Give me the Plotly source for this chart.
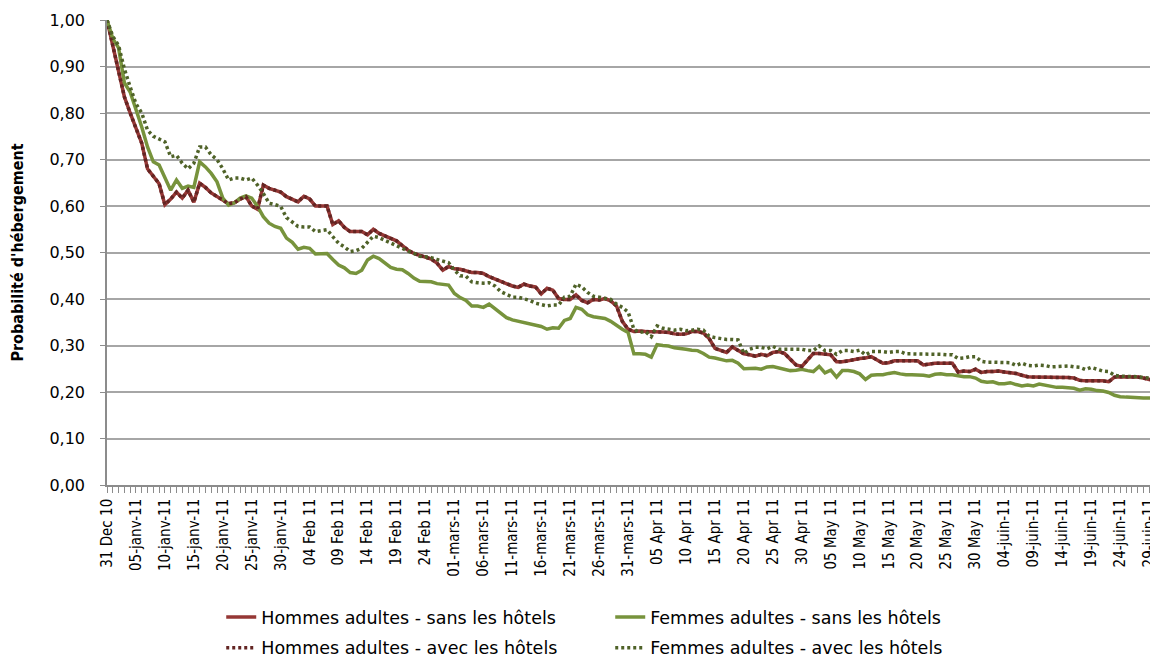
import pandas as pd
import plotly.graph_objects as go

start_date = "2010-12-31"

tick_labels = [
    "31 Dec 10", "05-janv-11", "10-janv-11", "15-janv-11", "20-janv-11", "25-janv-11",
    "30-janv-11", "04 Feb 11", "09 Feb 11", "14 Feb 11", "19 Feb 11", "24 Feb 11",
    "01-mars-11", "06-mars-11", "11-mars-11", "16-mars-11", "21-mars-11", "26-mars-11",
    "31-mars-11", "05 Apr 11", "10 Apr 11", "15 Apr 11", "20 Apr 11", "25 Apr 11",
    "30 Apr 11", "05 May 11", "10 May 11", "15 May 11", "20 May 11", "25 May 11",
    "30 May 11", "04-juin-11", "09-juin-11", "14-juin-11", "19-juin-11", "24-juin-11",
    "29-juin-11",
]

hommes_sans = [
    1.000, 0.945, 0.890, 0.835, 0.800, 0.767, 0.735, 0.680, 0.665, 0.648,
    0.603, 0.615, 0.630, 0.617, 0.634, 0.608, 0.649, 0.640, 0.628, 0.620,
    0.613, 0.605, 0.607, 0.615, 0.620, 0.600, 0.593, 0.645, 0.638, 0.634,
    0.630, 0.620, 0.615, 0.609, 0.621, 0.615, 0.600, 0.600, 0.600, 0.560,
    0.568, 0.554, 0.545, 0.545, 0.545, 0.538, 0.550, 0.541, 0.535, 0.530,
    0.525, 0.515, 0.505, 0.498, 0.494, 0.490, 0.486, 0.477, 0.462, 0.470,
    0.465, 0.464, 0.460, 0.457, 0.457, 0.455, 0.448, 0.443, 0.440, 0.433,
    0.428, 0.425, 0.432, 0.428, 0.426, 0.411, 0.423, 0.419, 0.401, 0.399,
    0.399, 0.409, 0.397, 0.392, 0.399, 0.398, 0.401, 0.396, 0.385, 0.352,
    0.335, 0.330, 0.331, 0.330, 0.330, 0.330, 0.329, 0.328, 0.325, 0.324,
    0.325, 0.330, 0.330, 0.327, 0.315, 0.294, 0.290, 0.285, 0.297, 0.290,
    0.282, 0.280, 0.277, 0.281, 0.278, 0.285, 0.287, 0.283, 0.270, 0.258,
    0.255, 0.270, 0.283, 0.283, 0.282, 0.280, 0.265, 0.265, 0.267, 0.270,
    0.272, 0.273, 0.276, 0.269, 0.262, 0.263, 0.267, 0.267, 0.267, 0.267,
    0.267, 0.258, 0.260, 0.262, 0.262, 0.262, 0.262, 0.243, 0.245, 0.244,
    0.249, 0.242, 0.244, 0.244, 0.245, 0.243, 0.241, 0.240, 0.236, 0.233,
    0.232, 0.232, 0.232, 0.232, 0.232, 0.232, 0.231, 0.230, 0.225, 0.224,
    0.224, 0.224, 0.224, 0.222, 0.232, 0.233, 0.233, 0.233, 0.232, 0.230,
    0.227, 0.226,
]

femmes_sans = [
    1.000, 0.960, 0.940, 0.865, 0.845, 0.810, 0.770, 0.727, 0.695, 0.688,
    0.663, 0.634, 0.656, 0.638, 0.643, 0.640, 0.695, 0.684, 0.670, 0.652,
    0.617, 0.602, 0.607, 0.617, 0.622, 0.617, 0.599, 0.577, 0.563, 0.556,
    0.552, 0.531, 0.522, 0.507, 0.511, 0.509, 0.497, 0.497, 0.498, 0.485,
    0.473, 0.467, 0.457, 0.455, 0.462, 0.484, 0.492, 0.487, 0.478, 0.468,
    0.464, 0.463, 0.455, 0.445, 0.438, 0.437, 0.437, 0.433, 0.432, 0.430,
    0.412, 0.403, 0.397, 0.385, 0.385, 0.382, 0.389, 0.380, 0.369, 0.360,
    0.355, 0.352, 0.350, 0.347, 0.344, 0.341, 0.335, 0.338, 0.337, 0.354,
    0.358, 0.382, 0.378, 0.366, 0.362, 0.360, 0.358, 0.352, 0.343, 0.335,
    0.328, 0.282, 0.282, 0.281, 0.275, 0.302, 0.300, 0.299, 0.295, 0.294,
    0.292, 0.290, 0.289, 0.283, 0.275, 0.273, 0.270, 0.267, 0.268, 0.262,
    0.250, 0.251, 0.251, 0.249, 0.254, 0.255, 0.252, 0.250, 0.246, 0.247,
    0.249, 0.246, 0.244, 0.255, 0.241, 0.247, 0.232, 0.246, 0.246, 0.244,
    0.239, 0.227, 0.236, 0.237, 0.237, 0.240, 0.242, 0.239, 0.237, 0.237,
    0.237, 0.236, 0.234, 0.238, 0.239, 0.237, 0.237, 0.235, 0.233, 0.233,
    0.230, 0.223, 0.221, 0.222, 0.218, 0.218, 0.220, 0.216, 0.213, 0.215,
    0.213, 0.217, 0.215, 0.212, 0.210, 0.210, 0.209, 0.208, 0.204, 0.207,
    0.206, 0.203, 0.202, 0.199, 0.193, 0.190, 0.189, 0.188, 0.187, 0.187,
    0.187, 0.187,
]

hommes_avec = [
    1.000, 0.945, 0.890, 0.835, 0.800, 0.767, 0.735, 0.680, 0.665, 0.648,
    0.603, 0.615, 0.630, 0.617, 0.634, 0.608, 0.649, 0.640, 0.628, 0.620,
    0.613, 0.605, 0.607, 0.615, 0.620, 0.600, 0.593, 0.645, 0.638, 0.634,
    0.630, 0.620, 0.615, 0.609, 0.621, 0.615, 0.600, 0.600, 0.600, 0.560,
    0.568, 0.554, 0.545, 0.545, 0.545, 0.538, 0.550, 0.541, 0.535, 0.530,
    0.525, 0.515, 0.505, 0.498, 0.494, 0.490, 0.486, 0.477, 0.462, 0.470,
    0.465, 0.464, 0.460, 0.457, 0.457, 0.455, 0.448, 0.443, 0.440, 0.433,
    0.428, 0.425, 0.432, 0.428, 0.426, 0.411, 0.423, 0.419, 0.401, 0.399,
    0.399, 0.409, 0.397, 0.392, 0.399, 0.398, 0.401, 0.396, 0.385, 0.352,
    0.335, 0.330, 0.331, 0.330, 0.330, 0.330, 0.329, 0.328, 0.325, 0.324,
    0.325, 0.330, 0.330, 0.327, 0.315, 0.294, 0.290, 0.285, 0.297, 0.290,
    0.282, 0.280, 0.277, 0.281, 0.278, 0.285, 0.287, 0.283, 0.270, 0.258,
    0.255, 0.270, 0.283, 0.283, 0.282, 0.280, 0.265, 0.265, 0.267, 0.270,
    0.272, 0.273, 0.276, 0.269, 0.262, 0.263, 0.267, 0.267, 0.267, 0.267,
    0.267, 0.258, 0.260, 0.262, 0.262, 0.262, 0.262, 0.243, 0.245, 0.244,
    0.249, 0.242, 0.244, 0.244, 0.245, 0.243, 0.241, 0.240, 0.236, 0.233,
    0.232, 0.232, 0.232, 0.232, 0.232, 0.232, 0.231, 0.230, 0.225, 0.224,
    0.224, 0.224, 0.224, 0.222, 0.232, 0.233, 0.233, 0.233, 0.232, 0.230,
    0.227, 0.226,
]

femmes_avec = [
    1.000, 0.965, 0.945, 0.895, 0.856, 0.820, 0.800, 0.763, 0.750, 0.745,
    0.738, 0.706, 0.709, 0.692, 0.680, 0.692, 0.727, 0.727, 0.710, 0.700,
    0.680, 0.656, 0.660, 0.660, 0.656, 0.660, 0.645, 0.627, 0.606, 0.603,
    0.599, 0.575, 0.565, 0.556, 0.555, 0.555, 0.545, 0.547, 0.549, 0.534,
    0.520, 0.512, 0.502, 0.504, 0.509, 0.522, 0.535, 0.532, 0.526, 0.521,
    0.514, 0.507, 0.503, 0.498, 0.492, 0.491, 0.489, 0.485, 0.482, 0.478,
    0.462, 0.450, 0.449, 0.437, 0.435, 0.434, 0.435, 0.428, 0.416, 0.409,
    0.404, 0.404, 0.401, 0.397, 0.391, 0.387, 0.385, 0.387, 0.387, 0.404,
    0.406, 0.432, 0.426, 0.414, 0.406, 0.404, 0.401, 0.399, 0.389, 0.382,
    0.372, 0.335, 0.328, 0.330, 0.319, 0.342, 0.337, 0.335, 0.333, 0.335,
    0.332, 0.333, 0.335, 0.333, 0.320, 0.317, 0.315, 0.313, 0.313, 0.312,
    0.283, 0.292, 0.296, 0.296, 0.293, 0.298, 0.292, 0.292, 0.292, 0.292,
    0.292, 0.289, 0.289, 0.299, 0.289, 0.289, 0.281, 0.289, 0.289, 0.287,
    0.290, 0.280, 0.287, 0.287, 0.287, 0.285, 0.287, 0.287, 0.282, 0.282,
    0.282, 0.282, 0.281, 0.281, 0.281, 0.280, 0.280, 0.272, 0.273, 0.276,
    0.276, 0.266, 0.264, 0.264, 0.264, 0.264, 0.263, 0.257, 0.262, 0.257,
    0.256, 0.258, 0.257, 0.254, 0.255, 0.256, 0.256, 0.254, 0.253, 0.248,
    0.253, 0.249, 0.245, 0.244, 0.236, 0.234, 0.234, 0.234, 0.233, 0.231,
    0.230, 0.229,
]

dates = pd.date_range(start_date, periods=len(hommes_sans), freq="D")
tick_dates = dates[::5][: len(tick_labels)]

RED = "#953735"
RED_DARK = "#632523"
GREEN = "#77933C"
GREEN_DARK = "#4F6228"
AXIS_GRAY = "#8C8C8C"
GRID_GRAY = "#A6A6A6"

LEG_FONT = dict(family="DejaVu Sans, Verdana, sans-serif", size=17.5, color="#000000")
NARROW = "Liberation Sans Narrow, DejaVu Sans Condensed, Roboto Condensed, Arial Narrow, Open Sans, sans-serif"

fig = go.Figure()
fig.add_trace(go.Scatter(x=dates, y=hommes_sans, mode="lines", name="Hommes adultes - sans les hôtels",
                         line=dict(color=RED, width=3.5), legend="legend"))
fig.add_trace(go.Scatter(x=dates, y=femmes_sans, mode="lines", name="Femmes adultes - sans les hôtels",
                         line=dict(color=GREEN, width=3.5), legend="legend"))
fig.add_trace(go.Scatter(x=dates, y=hommes_avec, mode="lines", name="Hommes adultes - avec les hôtels",
                         line=dict(color=RED_DARK, width=3.5, dash="3px,3px"), legend="legend2"))
fig.add_trace(go.Scatter(x=dates, y=femmes_avec, mode="lines", name="Femmes adultes - avec les hôtels",
                         line=dict(color=GREEN_DARK, width=3.5, dash="3px,3px"), legend="legend2"))

legend_common = dict(orientation="h", xanchor="left", yanchor="middle", x=0.109,
                     font=LEG_FONT, entrywidth=344, entrywidthmode="pixels",
                     bgcolor="rgba(0,0,0,0)", borderwidth=0, itemclick=False)

# The page body adds an 8px offset, so the figure is 8px smaller on each axis.
fig.update_layout(
    width=1150, height=651,
    margin=dict(l=99, r=3, t=12, b=174, autoexpand=False),
    paper_bgcolor="white", plot_bgcolor="white",
    separators=", ",
    showlegend=True,
    legend=dict(y=-0.284, **legend_common),
    legend2=dict(y=-0.350, **legend_common),
    xaxis=dict(
        type="date", automargin=False,
        range=[dates[0], dates[-1]],
        showline=True, linecolor=AXIS_GRAY, linewidth=1.5,
        showgrid=False, zeroline=False,
        tickmode="array", tickvals=tick_dates, ticktext=tick_labels,
        tickangle=-90,
        ticks="outside", ticklen=6, tickcolor=AXIS_GRAY, tickwidth=1,
        ticklabelstandoff=0, ticklabeloverflow="allow",
        tickfont=dict(family=NARROW, size=15, color="#000000"),
        minor=dict(ticks="outside", ticklen=6, tickcolor=AXIS_GRAY, tickwidth=1,
                   dtick=86400000, tick0=start_date, showgrid=False),
    ),
    yaxis=dict(
        range=[0, 1.0], automargin=False,
        dtick=0.1, tick0=0, tickformat=".2f",
        showline=True, linecolor=AXIS_GRAY, linewidth=1.5,
        showgrid=True, gridcolor=GRID_GRAY, gridwidth=1.5,
        zeroline=False,
        ticks="outside", ticklen=5, tickcolor=AXIS_GRAY,
        ticklabelstandoff=12,
        tickfont=dict(family="DejaVu Sans, Verdana, sans-serif", size=16, color="#000000"),
        title=dict(text="Probabilité d'hébergement", standoff=24,
                   font=dict(family=NARROW, size=16, color="#000000", weight="bold")),
    ),
)

fig.write_html("out.html")
